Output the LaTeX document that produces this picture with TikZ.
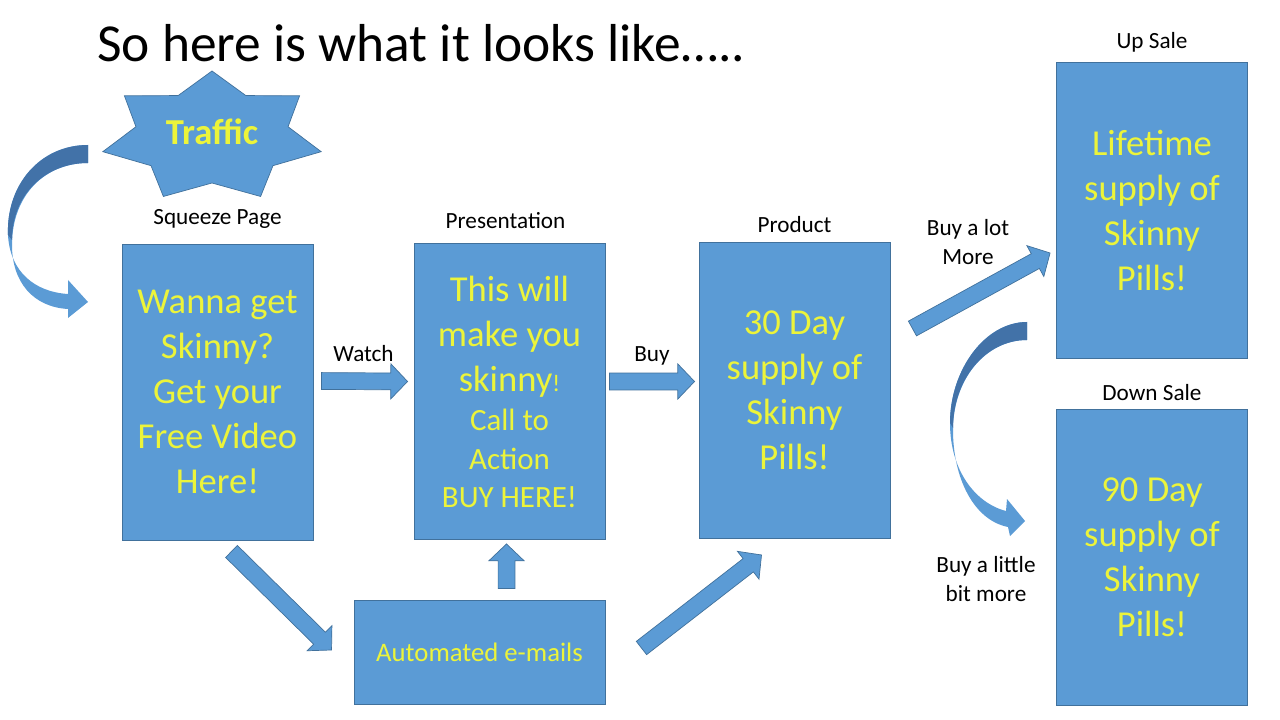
\documentclass[tikz,border=0pt]{standalone}
\usepackage{fontspec}
\setmainfont{Carlito}
\usetikzlibrary{calc,positioning}

\definecolor{boxblue}{RGB}{91,155,213}
\definecolor{edgeblue}{RGB}{65,113,156}
\definecolor{shadeblue}{RGB}{66,114,168}
\definecolor{pillyellow}{RGB}{236,244,58}

\tikzset{
  pillbox/.style={rectangle, fill=boxblue, draw=edgeblue, line width=0.6pt,
    text=pillyellow, align=center, minimum width=4.775cm, minimum height=7.4cm,
    font=\fontsize{26}{32}\selectfont},
  steplabel/.style={font=\fontsize{16.5}{20}\selectfont, align=center, inner sep=0pt},
  blockarrow/.style={fill=boxblue, draw=edgeblue, line width=0.5pt, line join=miter},
}

% fat block arrow from #1 to #2
\newcommand{\fatarrow}[2]{%
  \coordinate (fa-s) at (#1);
  \coordinate (fa-e) at (#2);
  \coordinate (fa-h) at ($(fa-e)!0.42cm!(fa-s)$);
  \filldraw[blockarrow] ($(fa-s)!0.21cm!90:(fa-e)$) -- ($(fa-h)!0.21cm!-90:(fa-s)$)
    -- ($(fa-h)!0.44cm!-90:(fa-s)$) -- (fa-e) -- ($(fa-h)!0.44cm!90:(fa-s)$)
    -- ($(fa-h)!0.21cm!90:(fa-s)$) -- ($(fa-s)!0.21cm!-90:(fa-e)$) -- cycle;
}
\newcommand{\smallline}{\fontsize{22}{27}\selectfont}

\begin{document}
\begin{tikzpicture}[x=0.025cm, y=-0.025cm]
  \useasboundingbox (0,0) rectangle (1280,720);
  \fill[white] (0,0) rectangle (1280,720);

  % Title
  \node[anchor=west, inner sep=0pt, font=\fontsize{38}{45}\selectfont] (title) at (97,43)
    {So here is what it looks like\dots..};

  % Traffic star
  \filldraw[blockarrow, shift={(212,137)}] (-90:112 and 66)
    \foreach \k in {0,...,6} { -- ({-90+\k*360/7+180/7}:78 and 46) -- ({-90+(\k+1)*360/7}:112 and 66) } -- cycle;
  \node[font=\fontsize{26}{30}\selectfont\bfseries, text=pillyellow] (traffic) at (212,132) {Traffic};

  % Curved arrow into the squeeze page
  \fill[boxblue] (88,145) .. controls (40,145) and (6,185) .. (8,235)
    .. controls (10,272) and (35,292) .. (68,294) -- (68,280) -- (88,302) -- (68,318) -- (68,309)
    .. controls (33,307) and (12,282) .. (12,245) .. controls (12,195) and (45,163) .. (88,163) -- cycle;
  \fill[shadeblue] (88,145) .. controls (40,145) and (6,185) .. (8,235) -- (12,240)
    .. controls (12,195) and (45,163) .. (88,163) -- cycle;

  % Pages
  \node[pillbox] (squeeze) at (217.5,392) {Wanna get\\Skinny?\\Get your\\Free Video\\Here!};
  \node[pillbox] (present) at (509.5,391.5) {This will\\make you\\skinny{\fontsize{17}{20}\selectfont!}\\[-4pt]%
    {\smallline Call to}\\[-4.5pt]{\smallline Action}\\[-5pt]{\smallline BUY HERE!}};
  \node[pillbox] (product) at (794.5,390.5) {30 Day\\supply of\\Skinny\\Pills!};
  \node[pillbox] (upsale) at (1152,210) {Lifetime\\supply of\\Skinny\\Pills!};
  \node[pillbox] (downsale) at (1152,557.5) {90 Day\\supply of\\Skinny\\Pills!};
  \node[pillbox, minimum width=6.275cm, minimum height=2.6cm, font=\fontsize{19}{23}\selectfont]
    (email) at (479.5,652) {Automated e-mails};

  % Labels
  \node[steplabel] (sqlabel) at ($(squeeze.north)+(0,-25)$) {Squeeze Page};
  \node[steplabel] (prlabel) at ($(present.north)+(-4,-22)$) {Presentation};
  \node[steplabel] (pdlabel) at ($(product.north)+(0,-18)$) {Product};
  \node[steplabel] (uplabel) at ($(upsale.north)+(0,-19)$) {Up Sale};
  \node[steplabel] (dnlabel) at ($(downsale.north)+(0,-17)$) {Down Sale};
  \node[steplabel] (watch) at ($(squeeze.east)!0.5!(present.west)+(0,-38)$) {Watch};
  \node[steplabel] (buy) at ($(present.east)!0.5!(product.west)+(0,-35)$) {Buy};
  \node[steplabel] (buylot) at (968,242) {Buy a lot\\More};
  \node[steplabel] (buylittle) at (986,579) {Buy a little\\bit more};

  % Arrows
  \fatarrow{$(squeeze.east)+(8,-11)$}{$(present.west)+(-6,-10)$}
  \fatarrow{$(present.east)+(4,-10)$}{$(product.west)+(-4,-9)$}
  \fatarrow{$(squeeze.south)+(14,11)$}{$(email.west)+(-22,-2)$}
  \fatarrow{$(email.north)+(27,-11)$}{$(present.south)+(-3,4)$}
  \fatarrow{$(email.east)+(36,-4)$}{$(product.south)+(-33,16)$}
  \fatarrow{$(product.east)+(22,-62)$}{$(upsale.west)+(-6,43)$}

  % Curved arrow down to the down sale
  \fill[boxblue] (1027,322) .. controls (985,322) and (950,370) .. (950,423)
    .. controls (950,470) and (975,503) .. (1006,511) -- (1007,499) -- (1025,521) -- (1010,536) -- (1008,527)
    .. controls (973,520) and (953,477) .. (953,430) .. controls (953,380) and (985,340) .. (1027,340) -- cycle;
  \fill[shadeblue] (1027,322) .. controls (985,322) and (950,370) .. (950,423) -- (953,428)
    .. controls (953,380) and (985,340) .. (1027,340) -- cycle;
\end{tikzpicture}
\end{document}
